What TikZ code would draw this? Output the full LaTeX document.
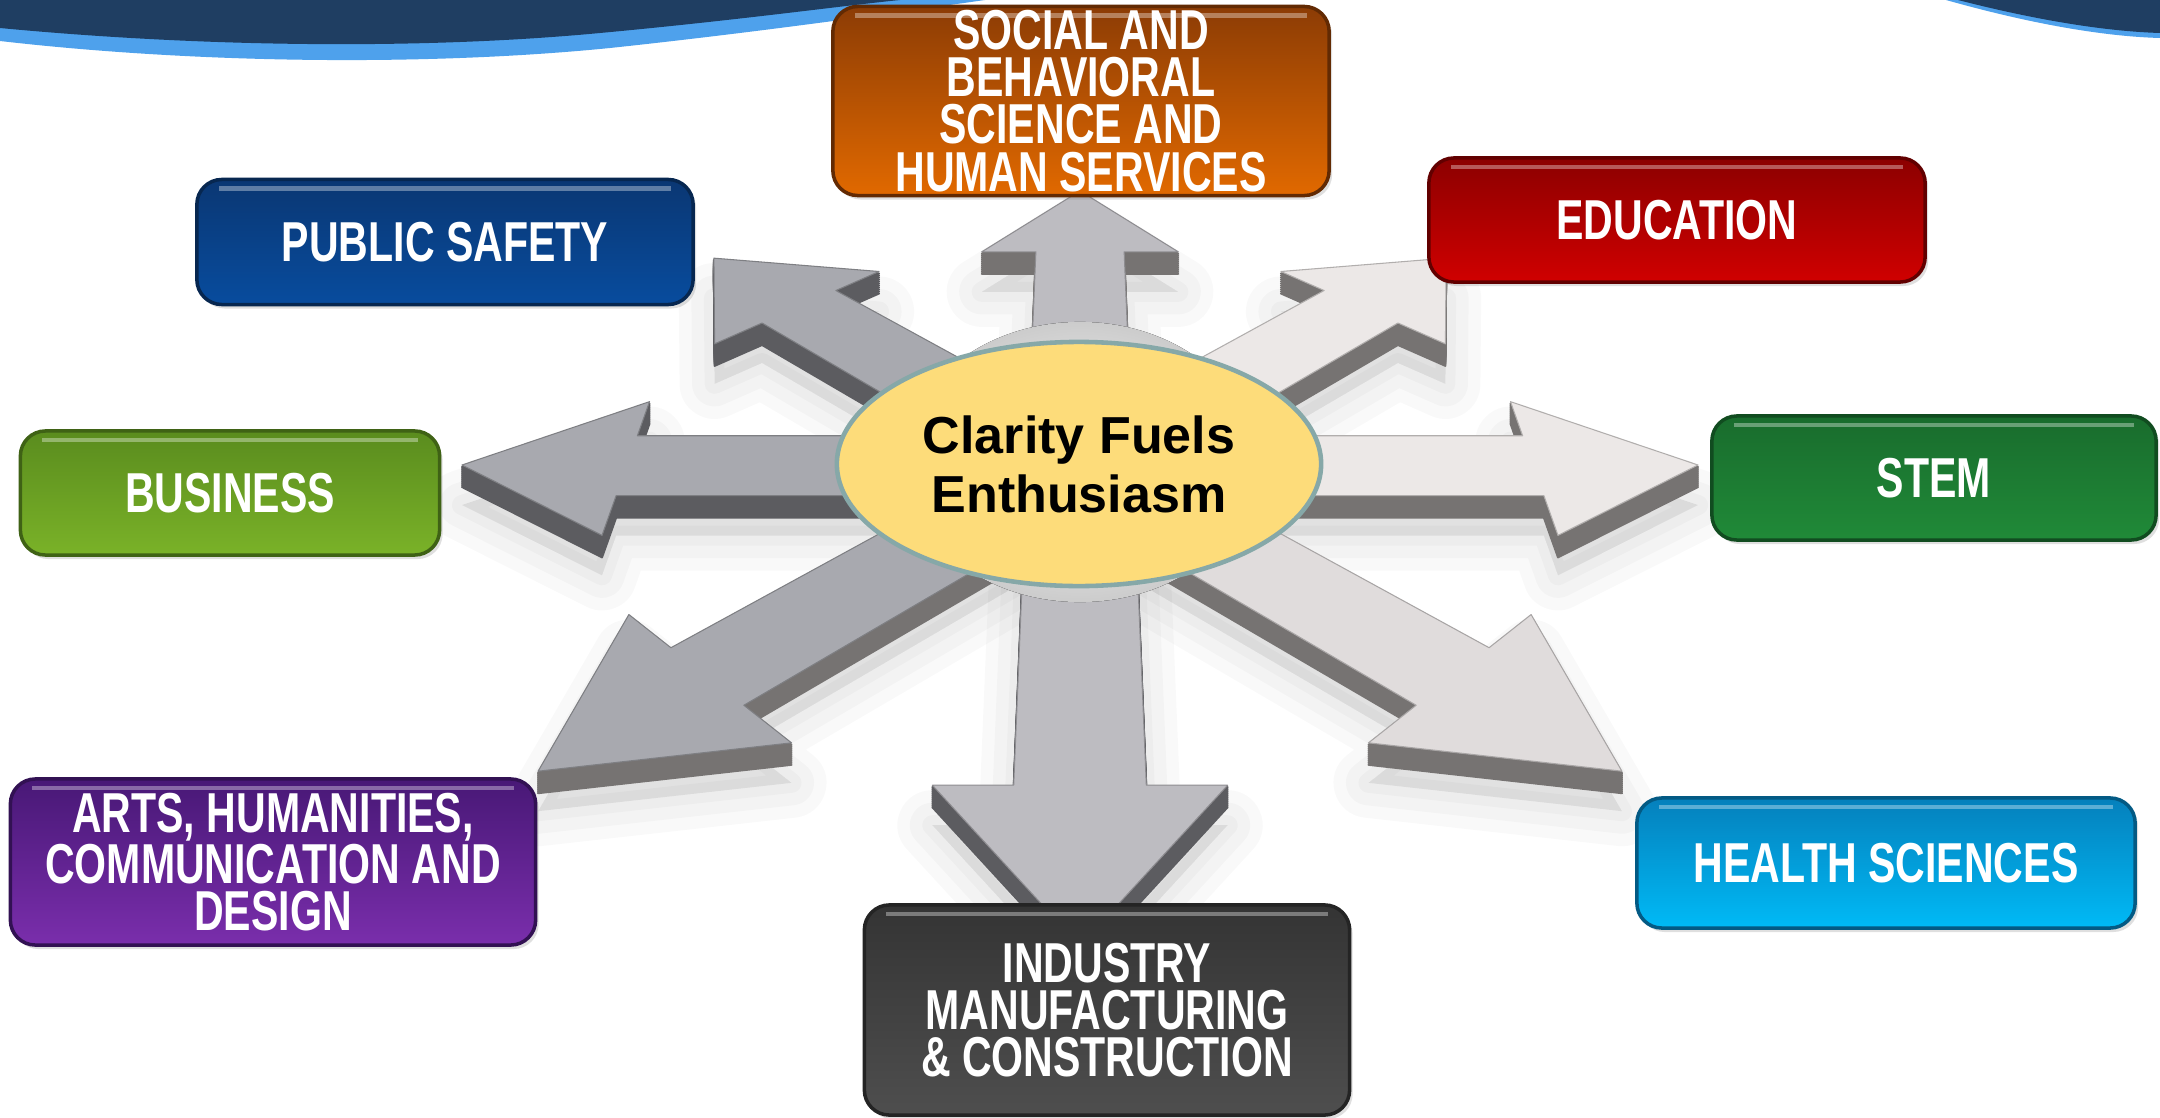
\documentclass[tikz,border=0pt]{standalone}
\usepackage{fontspec}
\setmainfont{Liberation Sans}
\newfontfamily\catfont{Liberation Sans}[FakeStretch=0.73]
\usetikzlibrary{shapes.geometric, shadows}

\definecolor{bannernavy}{RGB}{31,62,98}
\definecolor{bannerblue}{RGB}{78,161,236}
\definecolor{hubyellow}{RGB}{253,220,122}
\definecolor{hubedge}{RGB}{134,168,168}
\definecolor{socialtop}{RGB}{140,60,5}
\definecolor{socialbot}{RGB}{225,105,0}
\definecolor{edutop}{RGB}{140,0,0}
\definecolor{edubot}{RGB}{208,0,0}
\definecolor{safetytop}{RGB}{10,55,115}
\definecolor{safetybot}{RGB}{8,76,158}
\definecolor{bustop}{RGB}{90,140,30}
\definecolor{busbot}{RGB}{122,178,40}
\definecolor{stemtop}{RGB}{25,108,45}
\definecolor{stembot}{RGB}{32,138,56}
\definecolor{artstop}{RGB}{72,24,118}
\definecolor{artsbot}{RGB}{122,46,172}
\definecolor{healthtop}{RGB}{5,128,188}
\definecolor{healthbot}{RGB}{0,186,246}
\definecolor{indtop}{RGB}{52,52,52}
\definecolor{indbot}{RGB}{78,78,78}
\definecolor{greyface}{RGB}{168,169,175}
\definecolor{midface}{RGB}{189,188,193}
\definecolor{paleface}{RGB}{236,232,231}
\definecolor{darkwall}{RGB}{92,92,96}
\definecolor{wall}{RGB}{118,115,114}

% floor plane seen in perspective (all values in px)
\newcommand{\hubx}{1080}
\newcommand{\huby}{465}
\newcommand{\viewdist}{2257}
\newcommand{\viewtilt}{0.565}
\newcommand{\arrowlen}{618}
\newcommand{\headlen}{165}
\newcommand{\shaftw}{53}
\newcommand{\headw}{118}

% point at radius #1, side offset #2, direction #3 -> \fx, \fy
\newcommand{\floorpt}[3]{%
  \pgfmathsetmacro{\flu}{(#1)*cos(#3)-(#2)*sin(#3)}%
  \pgfmathsetmacro{\flv}{(#1)*sin(#3)+(#2)*cos(#3)}%
  \pgfmathsetmacro{\flk}{\viewdist/(\viewdist+\flv)}%
  \pgfmathsetmacro{\fx}{\hubx+\flu*\flk}%
  \pgfmathsetmacro{\fy}{\huby-\flv*\flk*\viewtilt}%
}
\newcommand{\arrowshape}[1]{%
  \filldraw[#1, line join=round] (\pax,\pay) -- (\pbx,\pby) -- (\pcx,\pcy)
    -- (\pdx,\pdy) -- (\pex,\pey) -- (\pfx,\pfy) -- (\pgx,\pgy) -- cycle;}
% direction, top colour, wall colour
\newcommand{\sectorarrow}[3]{%
  \floorpt{0}{-\shaftw}{#1}\let\pax\fx\let\pay\fy
  \floorpt{\arrowlen-\headlen}{-\shaftw}{#1}\let\pbx\fx\let\pby\fy
  \floorpt{\arrowlen-\headlen}{-\headw}{#1}\let\pcx\fx\let\pcy\fy
  \floorpt{\arrowlen}{0}{#1}\let\pdx\fx\let\pdy\fy
  \floorpt{\arrowlen-\headlen}{\headw}{#1}\let\pex\fx\let\pey\fy
  \floorpt{\arrowlen-\headlen}{\shaftw}{#1}\let\pfx\fx\let\pfy\fy
  \floorpt{0}{\shaftw}{#1}\let\pgx\fx\let\pgy\fy
  % soft shadow
  \foreach \w in {0.7cm,0.45cm,0.2cm}
    {\arrowshape{black, opacity=0.025, line width=\w, shift={(0,40)}}}
  % thickness
  \foreach \t in {2,4,...,22}
    {\arrowshape{#3, line width=0.02cm, shift={(0,\t)}}}
  % top face
  \arrowshape{#2, draw=#2!75!black, line width=0.3pt}
}

\begin{document}
\begin{tikzpicture}[x=0.01cm, y=-0.01cm]
    % Styles
    \tikzstyle{catbox} = [rectangle, rounded corners=0.25cm, line width=1pt,
        text=white, align=center, inner sep=0pt,
        font=\catfont\bfseries\fontsize{16}{13.4}\selectfont,
        drop shadow={opacity=0.25, shadow xshift=0.03cm, shadow yshift=-0.04cm},
        path picture={\draw[white, opacity=0.35, line width=1.2pt]
          ([xshift=0.22cm, yshift=-0.09cm]path picture bounding box.north west) --
          ([xshift=-0.22cm, yshift=-0.09cm]path picture bounding box.north east);}]
    \tikzstyle{hubnode} = [ellipse, fill=hubyellow, draw=hubedge, line width=1.3pt,
        minimum width=4.84cm, minimum height=2.44cm, inner sep=0pt, align=center,
        font=\bfseries\fontsize{14.8}{16.8}\selectfont]

    \useasboundingbox (0,0) rectangle (2160,1118);
    \fill[white] (0,0) rectangle (2160,1118);

    % Banner
    \fill[bannerblue] (0,0) -- (0,41) .. controls (200,64) and (430,66) .. (610,48)
        .. controls (760,32) and (900,12) .. (985,0) -- cycle;
    \fill[bannernavy] (0,0) -- (0,28) .. controls (200,47) and (420,50) .. (600,33)
        .. controls (740,20) and (840,6) .. (900,0) -- cycle;
    \fill[bannerblue] (1946,0) .. controls (2010,18) and (2090,36) .. (2160,38) -- (2160,0) -- cycle;
    \fill[bannernavy] (1958,0) .. controls (2020,16) and (2095,31) .. (2160,33) -- (2160,0) -- cycle;

    % Arrows
    \sectorarrow{90}{midface}{wall}
    \sectorarrow{135}{greyface}{darkwall}
    \sectorarrow{45}{paleface}{wall}
    \sectorarrow{180}{greyface}{darkwall}
    \sectorarrow{0}{paleface}{wall}
    \sectorarrow{225}{greyface}{wall}
    \sectorarrow{315}{paleface!95!black}{wall}
    \sectorarrow{270}{midface}{darkwall}

    % Hub
    \fill[inner color=white, outer color=gray!40] (1080,462) ellipse [x radius=1.75cm, y radius=1.4cm];
    \node [hubnode] (hub) at (1079,464) {Clarity Fuels\\Enthusiasm};

    % Nodes
    \node [catbox, top color=socialtop, bottom color=socialbot, draw=socialtop!70!black,
        minimum width=4.96cm, minimum height=1.89cm] (social) at (1081,101)
        {SOCIAL AND\\BEHAVIORAL\\SCIENCE AND\\HUMAN SERVICES};
    \node [catbox, top color=edutop, bottom color=edubot, draw=edutop!70!black,
        minimum width=4.96cm, minimum height=1.24cm] (edu) at (1677,220) {EDUCATION};
    \node [catbox, top color=safetytop, bottom color=safetybot, draw=safetytop!70!black,
        minimum width=4.96cm, minimum height=1.25cm] (safety) at (445,242) {PUBLIC SAFETY};
    \node [catbox, top color=bustop, bottom color=busbot, draw=bustop!70!black,
        minimum width=4.19cm, minimum height=1.24cm] (business) at (230,493) {BUSINESS};
    \node [catbox, top color=stemtop, bottom color=stembot, draw=stemtop!70!black,
        minimum width=4.44cm, minimum height=1.24cm] (stem) at (1934,478) {STEM};
    \node [catbox, top color=artstop, bottom color=artsbot, draw=artstop!70!black,
        minimum width=5.25cm, minimum height=1.66cm] (arts) at (273,862)
        {ARTS, HUMANITIES,\\COMMUNICATION AND\\DESIGN};
    \node [catbox, top color=healthtop, bottom color=healthbot, draw=healthtop!70!black,
        minimum width=4.98cm, minimum height=1.30cm] (health) at (1886,863) {HEALTH SCIENCES};
    \node [catbox, top color=indtop, bottom color=indbot, draw=indtop!70!black,
        minimum width=4.85cm, minimum height=2.10cm] (industry) at (1107,1010)
        {INDUSTRY\\MANUFACTURING\\\& CONSTRUCTION};
\end{tikzpicture}
\end{document}
